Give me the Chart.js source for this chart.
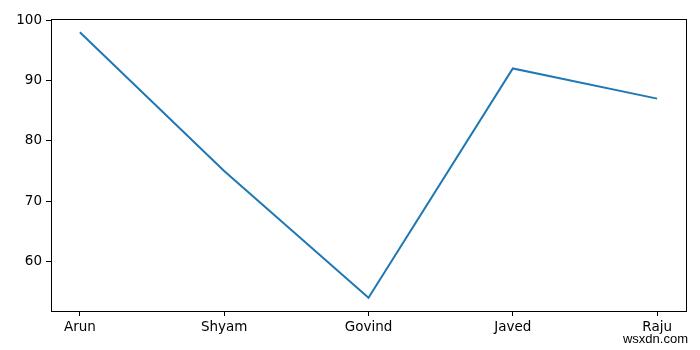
<!DOCTYPE html>
<html>
<head>
<meta charset="utf-8">
<script src="https://cdn.jsdelivr.net/npm/chart.js@4/dist/chart.umd.min.js"></script>
<style>
    html, body { margin: 0; padding: 0; background: #fff; }
    #wrap { position: relative; width: 700px; height: 350px; }
    #mark { position: absolute; right: 12px; bottom: 4px; font: 13px "Liberation Sans", Arial, sans-serif; color: #000; }
</style>
</head>
<body>
<div id="wrap">
    <canvas id="myChart" width="700" height="350"></canvas>
    <div id="mark">wsxdn.com</div>
</div>
<script>
const names = ["Arun", "Shyam", "Govind", "Javed", "Raju"];
const marks = [98, 75, 54, 92, 87];
const yTicks = [60, 70, 80, 90, 100];

// box round the plot, like matplotlib's spines
const frame = {
    id: 'frame',
    afterDatasetsDraw(chart) {
        const {ctx, chartArea: a} = chart;
        ctx.save();
        ctx.strokeStyle = '#000';
        ctx.lineWidth = 1;
        ctx.strokeRect(Math.round(a.left) + 0.5, Math.round(a.top) + 0.5,
            Math.round(a.right - a.left), Math.round(a.bottom - a.top));
        ctx.restore();
    }
};

const font = {family: '"DejaVu Sans", sans-serif', size: 13.5};

new Chart(document.getElementById('myChart').getContext('2d'), {
    type: 'line',
    data: {
        datasets: [{
            data: names.map((n, i) => ({x: i, y: marks[i]})),
            borderColor: '#1f77b4',
            borderWidth: 2,
            pointRadius: 0,
            tension: 0
        }]
    },
    options: {
        responsive: false,
        animation: false,
        layout: {padding: {top: 19, right: 14, left: 0, bottom: 0}},
        plugins: {legend: {display: false}, tooltip: {enabled: false}},
        scales: {
            x: {
                type: 'linear',
                min: -0.2,
                max: 4.2,
                afterBuildTicks: s => { s.ticks = names.map((n, i) => ({value: i})); },
                afterFit: s => { s.height = 39; },
                grid: {drawOnChartArea: false, drawTicks: true, tickLength: 5, tickColor: '#000'},
                border: {color: '#000'},
                ticks: {color: '#000', font: font, padding: 3, maxRotation: 0,
                    callback: v => names[v]}
            },
            y: {
                min: 51.8,
                max: 100.2,
                afterBuildTicks: s => { s.ticks = yTicks.map(v => ({value: v})); },
                afterFit: s => { s.width = 51; },
                grid: {drawOnChartArea: false, drawTicks: true, tickLength: 5, tickColor: '#000'},
                border: {color: '#000'},
                ticks: {color: '#000', font: font, padding: 4}
            }
        }
    },
    plugins: [frame]
});
</script>
</body>
</html>
